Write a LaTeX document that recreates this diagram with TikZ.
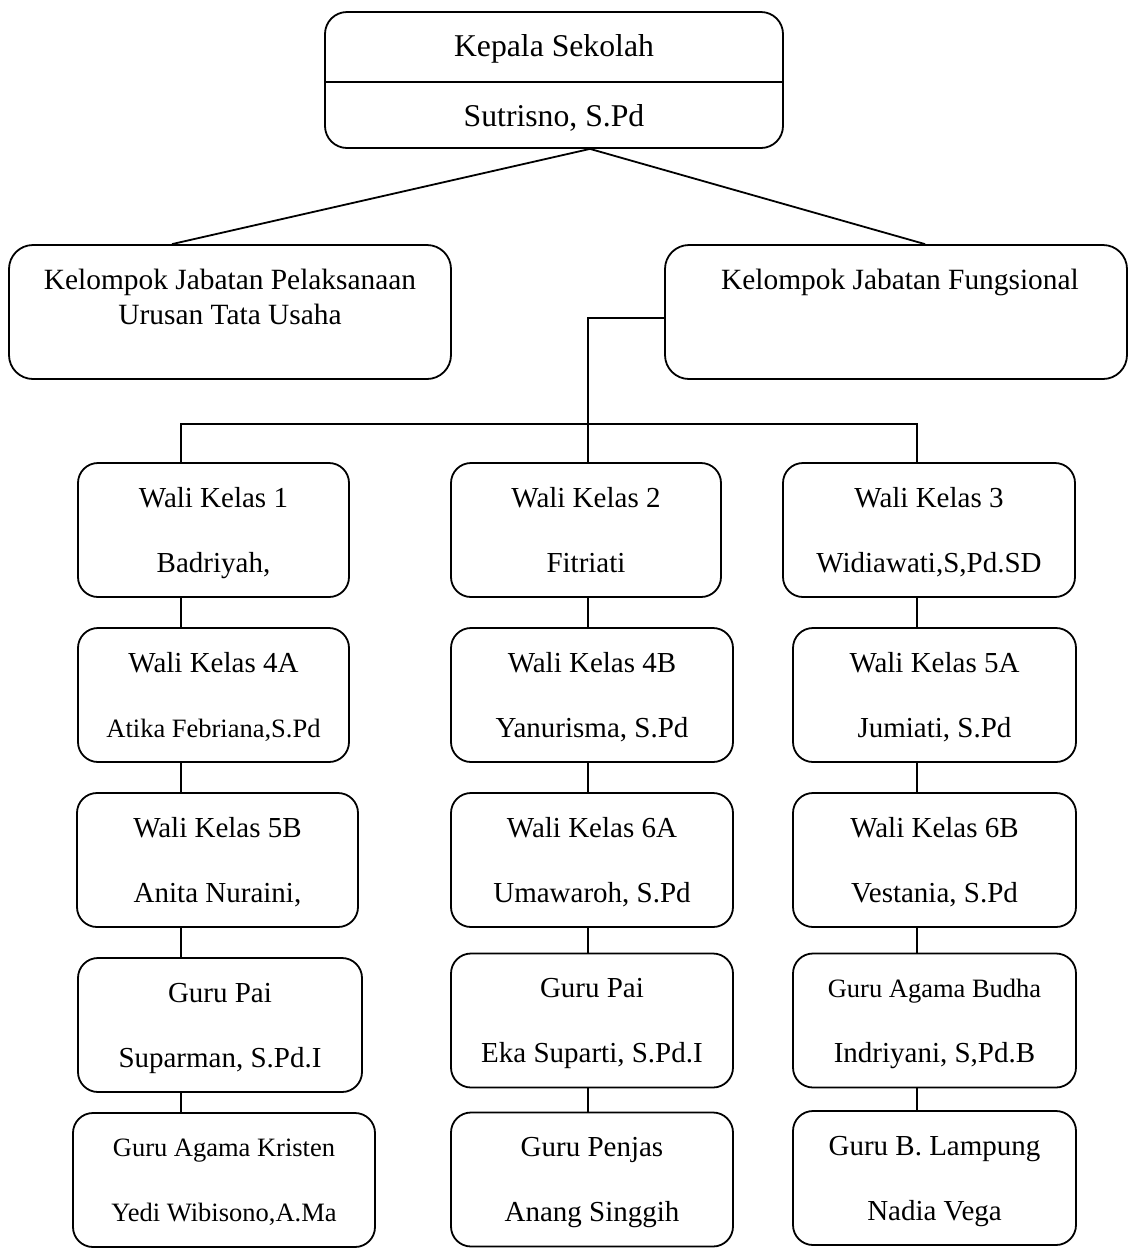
\documentclass[tikz,border=0pt]{standalone}
\usepackage{fontspec}
\setmainfont{Liberation Serif}

\newcommand{\kecil}{\fontsize{13.25}{32.5}\selectfont}
\tikzset{
	kotak/.style={draw, rounded corners=10pt, minimum height=67pt, inner sep=0pt, align=center, font=\fontsize{14.5}{32.5}\selectfont},
	kelompok/.style={draw, rounded corners=12pt, minimum height=67pt, inner sep=0pt},
	teks/.style={inner sep=0pt, align=center, anchor=north, font=\fontsize{14.7}{17.5}\selectfont}
}
\newcommand{\jabatan}[5]{
	\node[kotak, minimum width=#3] (#1) at (#2) {#4\\\smash{#5}};
}

\begin{document}
\begin{tikzpicture}[x=0.5pt,y=-0.5pt,line width=0.9pt]
	\useasboundingbox (0,0) rectangle (1130,1249);

	\node[draw, rounded corners=11pt, minimum width=229pt, minimum height=68pt, inner sep=0pt, align=center, font=\fontsize{15.85}{35}\selectfont] (kepsek) at (554,80) {Kepala Sekolah\\\smash{Sutrisno, S.Pd}};
	\draw ([yshift=-1pt]kepsek.west) -- ([yshift=-1pt]kepsek.east);

	\node[kelompok, minimum width=221pt] (ktu) at (230,312) {};
	\node[teks] (ktu-teks) at ([yshift=-11.8pt]ktu.north) {Kelompok Jabatan Pelaksanaan\\Urusan Tata Usaha};
	\node[kelompok, minimum width=231pt] (kjf) at (896,312) {};
	\node[teks] (kjf-teks) at ([xshift=2pt,yshift=-11.8pt]kjf.north) {Kelompok Jabatan Fungsional};

	\jabatan{w1}{213.5,530}{135.5pt}{Wali Kelas 1}{Badriyah,}
	\jabatan{w4a}{213.5,695}{135.5pt}{Wali Kelas 4A}{\kecil Atika Febriana,S.Pd}
	\jabatan{w5b}{217.5,860}{140.5pt}{Wali Kelas 5B}{Anita Nuraini,}
	\jabatan{pai1}{220,1025}{142pt}{Guru Pai}{Suparman, S.Pd.I}
	\jabatan{kristen}{224,1180}{151pt}{\kecil Guru Agama Kristen}{\kecil Yedi Wibisono,A.Ma}

	\jabatan{w2}{586,530}{135pt}{Wali Kelas 2}{Fitriati}
	\jabatan{w4b}{592,695}{141pt}{Wali Kelas 4B}{Yanurisma, S.Pd}
	\jabatan{w6a}{592,860}{141pt}{Wali Kelas 6A}{Umawaroh, S.Pd}
	\jabatan{pai2}{592,1020.5}{141pt}{Guru Pai}{Eka Suparti, S.Pd.I}
	\jabatan{penjas}{592,1179.5}{141pt}{Guru Penjas}{Anang Singgih}

	\jabatan{w3}{929,530}{146pt}{Wali Kelas 3}{Widiawati,S,Pd.SD}
	\jabatan{w5a}{934.5,695}{141.5pt}{Wali Kelas 5A}{Jumiati, S.Pd}
	\jabatan{w6b}{934.5,860}{141.5pt}{Wali Kelas 6B}{Vestania, S.Pd}
	\jabatan{budha}{934.5,1020.5}{141.5pt}{\kecil Guru Agama Budha}{Indriyani, S,Pd.B}
	\jabatan{lampung}{934.5,1178}{141.5pt}{Guru B. Lampung}{Nadia Vega}

	\coordinate (c1) at (181,0);
	\coordinate (c2) at (588,0);
	\coordinate (c3) at (917,0);
	\coordinate (bus) at (588,424);

	\draw ([xshift=18pt]kepsek.south) -- ([xshift=-29pt]ktu.north);
	\draw ([xshift=18pt]kepsek.south) -- ([xshift=14.5pt]kjf.north);
	\draw ([yshift=-3pt]kjf.west) -| (w2.north -| c2);
	\draw (w1.north -| c1) |- (bus) -| (w3.north -| c3);

	\draw (w1.south -| c1) -- (w4a.north -| c1) (w4a.south -| c1) -- (w5b.north -| c1) (w5b.south -| c1) -- (pai1.north -| c1) (pai1.south -| c1) -- (kristen.north -| c1);
	\draw (w2.south -| c2) -- (w4b.north -| c2) (w4b.south -| c2) -- (w6a.north -| c2) (w6a.south -| c2) -- (pai2.north -| c2) (pai2.south -| c2) -- (penjas.north -| c2);
	\draw (w3.south -| c3) -- (w5a.north -| c3) (w5a.south -| c3) -- (w6b.north -| c3) (w6b.south -| c3) -- (budha.north -| c3) (budha.south -| c3) -- (lampung.north -| c3);
\end{tikzpicture}
\end{document}
